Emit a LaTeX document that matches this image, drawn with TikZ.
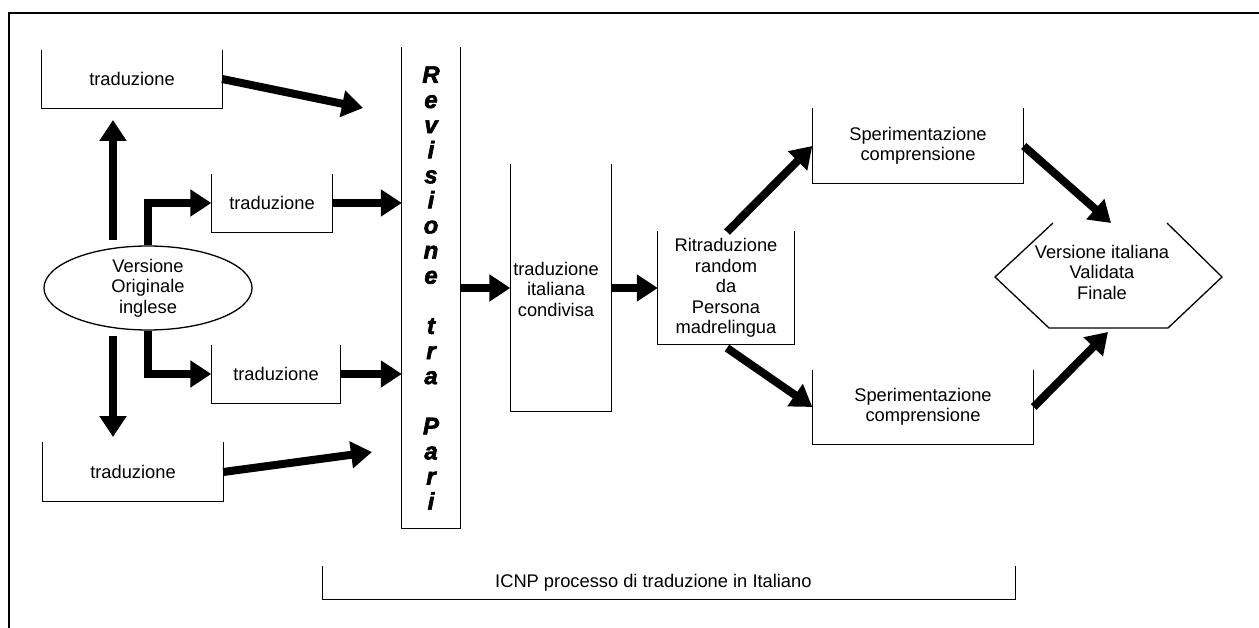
\documentclass[tikz,border=0pt]{standalone}
\usepackage{fontspec}
\setmainfont{Liberation Sans}
\newfontfamily\revfont[BoldItalicFeatures={FakeBold=2.5}]{Liberation Sans}
\usetikzlibrary{arrows.meta,shapes.geometric}
\begin{document}
\begin{tikzpicture}[x=1pt,y=-1pt,
  txt/.style={inner sep=0pt, align=center, font=\fontsize{18.3}{20.5}\selectfont},
  bigarrow/.style={line width=8pt, -{Triangle[length=21pt,width=26pt]}},
  thinline/.style={line width=1.3pt}]
\useasboundingbox (0,0) rectangle (1259,628);
% frame (top and left only)
\draw[thinline] (1259,13) -- (9,13) -- (9,628);
% boxes (open top): nodes give the text, three sides are drawn
\node[txt, minimum width=180pt, minimum height=58pt] (b1) at (132,79) {traduzione};
\node[txt, minimum width=121pt, minimum height=58pt] (b2) at (272,203) {traduzione};
\node[txt, minimum width=129pt, minimum height=58pt] (b3) at (276,374) {traduzione};
\node[txt, minimum width=180pt, minimum height=59pt] (b4) at (133,472) {traduzione};
\node[draw, thinline, ellipse, txt, minimum width=208pt, minimum height=84pt] (ell) at (148,288) {Versione\\Originale\\inglese};
\node[minimum width=58pt, minimum height=481pt, inner sep=0pt] (rev) at (431,288) {};
\node[inner sep=0pt, align=center, font=\revfont\fontsize{24}{25.1}\selectfont\bfseries\itshape] (revt) at (431,288)
  {R\\e\\v\\i\\s\\i\\o\\n\\e\\~\\t\\r\\a\\~\\P\\a\\r\\i};
\node[minimum width=101pt, minimum height=247pt, inner sep=0pt] (cond) at (561,288) {};
\node[txt] (condt) at (556,289) {traduzione\\italiana\\condivisa};
\node[txt, minimum width=136pt, minimum height=113pt] (rit) at (726,288) {Ritraduzione\\random\\da\\Persona\\madrelingua};
\node[txt, minimum width=211pt, minimum height=75pt] (sp1) at (918,146) {Sperimentazione\\comprensione};
\node[txt, minimum width=221pt, minimum height=74pt] (sp2) at (923,407) {Sperimentazione\\comprensione};
\node[txt] (hex) at (1102,272) {Versione italiana\\Validata\\Finale};
\node[minimum width=692pt, minimum height=33pt, inner sep=0pt] (icnp) at (669,583) {};
\node[txt, anchor=west] (icnpt) at (495,583) {ICNP processo di traduzione in Italiano};
\foreach \n in {b1,b2,b3,b4,rev,cond,rit,sp1,sp2,icnp}
  \draw[thinline] (\n.north west) |- (\n.south east) -- (\n.north east);
% hexagon without top edge
\coordinate (h1) at (1053,223);
\coordinate (h2) at (995,277);
\coordinate (h3) at (1049,328);
\coordinate (h4) at (1168,328);
\coordinate (h5) at (1222,277);
\coordinate (h6) at (1167,223);
\draw[thinline] (h1) -- (h2) -- (h3) -- (h4) -- (h5) -- (h6);
% arrows
\coordinate (up0) at (113,240);
\coordinate (up1) at (113,120);
\coordinate (dn0) at (113,336);
\coordinate (dn1) at (113,437);
\draw[bigarrow] (up0) -- (up1);
\draw[bigarrow] (dn0) -- (dn1);
\draw[bigarrow] (ell.north) |- (b2.west);
\draw[bigarrow] (ell.south) |- (b3.west);
\coordinate (t1) at (363,108);
\coordinate (t4) at (372,452);
\draw[bigarrow] (b1.east) -- (t1);
\draw[bigarrow] (b4.east) -- (t4);
\draw[bigarrow] (b2.east) -- (b2.east -| rev.west);
\draw[bigarrow] (b3.east) -- (b3.east -| rev.west);
\draw[bigarrow] (rev.east |- cond.center) -- (cond.west);
\draw[bigarrow] (cond.east) -- (rit.west);
\coordinate (r1) at (727,232);
\coordinate (r2) at (727,348);
\draw[bigarrow] (r1) -- (sp1.west);
\draw[bigarrow] (r2) -- (sp2.west);
\coordinate (e1) at (1111,223);
\coordinate (e2) at (1108,332);
\draw[bigarrow] (sp1.east) -- (e1);
\draw[bigarrow] (sp2.east) -- (e2);
\end{tikzpicture}
\end{document}
